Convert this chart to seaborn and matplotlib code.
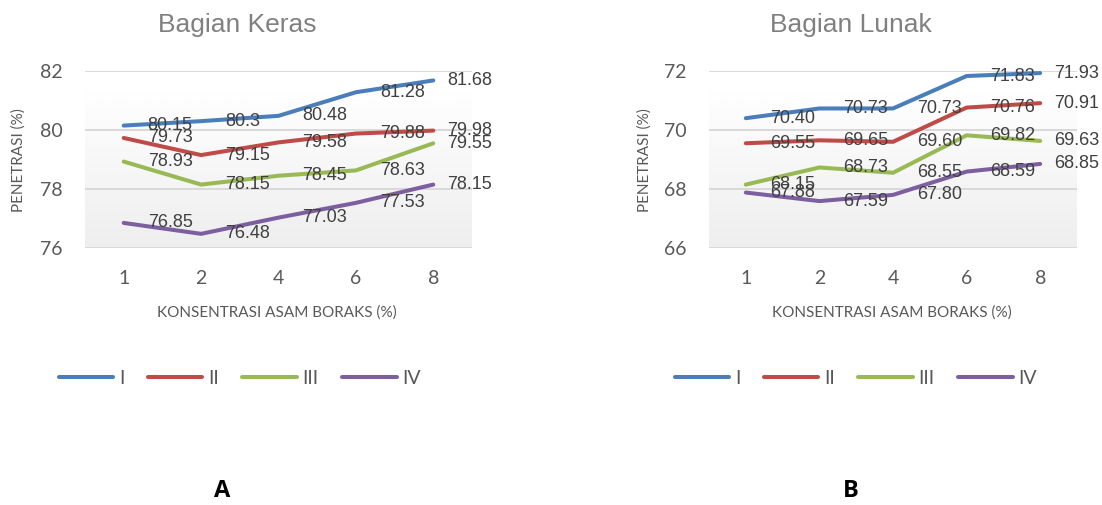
import numpy as np
import pandas as pd
import matplotlib
matplotlib.use("Agg")
import matplotlib.pyplot as plt
from matplotlib.lines import Line2D
from matplotlib.colors import LinearSegmentedColormap
import seaborn as sns

# Kategori sumbu-x dan nama seri
konsentrasi = ["1", "2", "4", "6", "8"]
seri = ["I", "II", "III", "IV"]

# Bagian Keras – penetrasi (%)
keras_I = [80.15, 80.30, 80.48, 81.28, 81.68]
keras_II = [79.73, 79.15, 79.58, 79.88, 79.98]
keras_III = [78.93, 78.15, 78.45, 78.63, 79.55]
keras_IV = [76.85, 76.48, 77.03, 77.53, 78.15]

# Bagian Lunak – penetrasi (%)
lunak_I = [70.40, 70.73, 70.73, 71.83, 71.93]
lunak_II = [69.55, 69.65, 69.60, 70.76, 70.91]
lunak_III = [68.15, 68.73, 68.55, 69.82, 69.63]
lunak_IV = [67.88, 67.59, 67.80, 68.59, 68.85]

keras_yticks = [76, 78, 80, 82]
lunak_yticks = [66, 68, 70, 72]

warna = ["#4A7EBB", "#BE4B48", "#98B954", "#7D5FA0"]

sns.set_style("white")
plt.rcParams["font.family"] = ["Lato", "DejaVu Sans"]

fig = plt.figure(figsize=(11.02, 5.05), dpi=100)
W, H = 1102, 505


def px_axes(x0, x1, y0, y1):
    return fig.add_axes([x0 / W, 1 - y1 / H, (x1 - x0) / W, (y1 - y0) / H])


bg_cmap = LinearSegmentedColormap.from_list("bg", ["#ffffff", "#eeeeee"])


def panel(ax, series, yticks, fmt, grad_top):
    n = len(konsentrasi)
    df = pd.DataFrame({
        "pos": np.tile(np.arange(n), len(seri)),
        "nilai": np.concatenate(series),
        "seri": np.repeat(seri, n),
    })
    ymin, ymax = yticks[0], yticks[-1]
    grad = np.linspace(0, 1, 256).reshape(-1, 1)
    ax.imshow(grad, cmap=bg_cmap, extent=[-0.5, n - 0.5, ymin, grad_top],
              aspect="auto", zorder=0, interpolation="bilinear")
    for y in yticks:
        ax.axhline(y, color="#d9d9d9", lw=1.4, zorder=1)
    sns.lineplot(data=df, x="pos", y="nilai", hue="seri", hue_order=seri,
                 palette=warna, linewidth=2.9, legend=False, ax=ax,
                 sort=False, solid_capstyle="round", zorder=3)
    for vals in series:
        for i, v in enumerate(vals):
            dx = 14 if i == n - 1 else 24
            ax.annotate(fmt(v), (i, v), xytext=(dx, 0), textcoords="offset pixels",
                        ha="left", va="center", fontsize=13, color="#404040",
                        family=["Liberation Sans", "DejaVu Sans"], zorder=4)
    ax.set_xlim(-0.5, n - 0.5)
    ax.set_ylim(ymin, ymax)
    ax.set_xticks(range(n))
    ax.set_xticklabels(konsentrasi)
    ax.set_yticks(yticks)
    ax.tick_params(axis="both", length=0, labelsize=14, labelcolor="#595959")
    ax.tick_params(axis="y", pad=16)
    ax.tick_params(axis="x", pad=16)
    ax.set_xlabel("")
    ax.set_ylabel("")
    for s in ax.spines.values():
        s.set_visible(False)
    ax.patch.set_alpha(0)


ax1 = px_axes(85, 472, 71, 248)
panel(ax1, [keras_I, keras_II, keras_III, keras_IV], keras_yticks,
      lambda v: f"{v:g}", 81.3)
ax2 = px_axes(709, 1077, 71, 248)
panel(ax2, [lunak_I, lunak_II, lunak_III, lunak_IV], lunak_yticks,
      lambda v: f"{v:.2f}", 71.3)


def ftext(x, y, s, **kw):
    fig.text(x / W, 1 - y / H, s, **kw)


# Judul panel
ftext(237, 25, "Bagian Keras", ha="center", va="center", fontsize=19,
      color="#808080", family=["Liberation Sans", "DejaVu Sans"])
ftext(851, 25, "Bagian Lunak", ha="center", va="center", fontsize=19,
      color="#808080", family=["Liberation Sans", "DejaVu Sans"])

# Label sumbu
for xc in (277, 892):
    ftext(xc, 313, "KONSENTRASI ASAM BORAKS (%)", ha="center", va="center",
          fontsize=11, color="#595959")
for xc in (19, 645):
    ftext(xc, 160, "PENETRASI (%)", ha="center", va="center", rotation=90,
          fontsize=11, color="#595959")

# Legenda
handles = [Line2D([], [], color=c, lw=2.9, solid_capstyle="round") for c in warna]
for xc in (240, 856):
    fig.legend(handles, seri, loc="center", bbox_to_anchor=(xc / W, 1 - 378 / H),
               ncol=4, frameon=False, fontsize=14, handlelength=2.8,
               handletextpad=0.3, columnspacing=1.2, labelcolor="#595959")

# Penanda panel
ftext(222, 491, "A", ha="center", va="center", fontsize=17, fontweight="bold",
      color="black", family=["Open Sans", "DejaVu Sans"], stretch="condensed")
ftext(851, 491, "B", ha="center", va="center", fontsize=17, fontweight="bold",
      color="black", family=["Open Sans", "DejaVu Sans"], stretch="condensed")

fig.savefig("out.png", dpi=100)
